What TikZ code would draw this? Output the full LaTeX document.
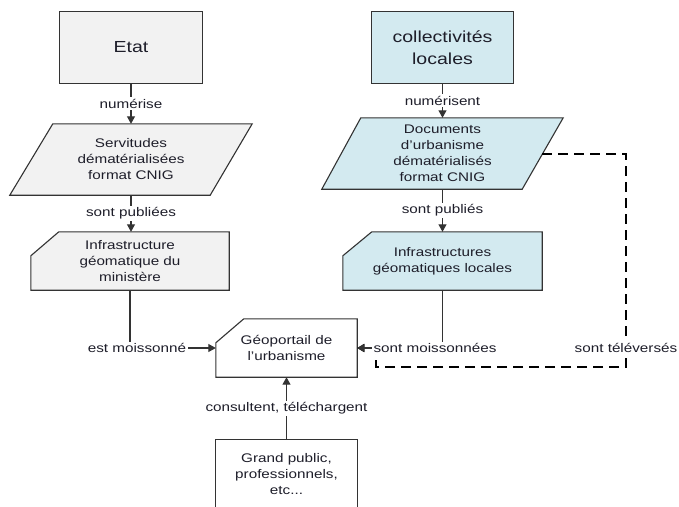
\documentclass[tikz,border=0pt]{standalone}
\usepackage{fontspec}
\setmainfont{Liberation Sans}[FakeStretch=1.22]
\usetikzlibrary{arrows.meta,backgrounds}
\definecolor{gfill}{HTML}{F2F2F2}
\definecolor{bfill}{HTML}{D3EAF0}
\definecolor{edge}{HTML}{333333}
\definecolor{txt}{HTML}{1E1E2A}
\begin{document}
\begin{tikzpicture}[x=1pt,y=-1pt,
  box/.style={rectangle, inner sep=0pt, align=center, text=txt, font=\fontsize{12.5}{16}\selectfont},
  bigbox/.style={box, font=\fontsize{16}{22}\selectfont},
  lbl/.style={fill=white, inner sep=1.5pt, text=txt, font=\fontsize{12.5}{15}\selectfont},
  conn/.style={draw=edge, line width=1.1pt, -{Triangle[length=7.5pt,width=8pt]}},
  outline/.style={draw=edge, line width=1.1pt},
  dashconn/.style={draw=black, line width=2.6pt, dash pattern=on 10pt off 6pt, -{Triangle[length=7pt,width=8pt]}}]
\useasboundingbox (0,0) rectangle (679,506);
\clip (0,0) rectangle (679,506);

% nodes
\node[bigbox, minimum width=142pt, minimum height=71pt] (etat) at (131,47.5) {Etat};
\node[box, minimum width=242pt, minimum height=71pt] (serv) at (131,159.5) {Servitudes\\dématérialisées\\format CNIG};
\node[box, minimum width=198pt, minimum height=58pt] (infra) at (130,261) {Infrastructure\\géomatique du\\ministère};
\node[box, minimum width=141pt, minimum height=58pt] (geo) at (286.5,348) {Géoportail de\\l'urbanisme};
\node[box, minimum width=141pt, minimum height=68pt] (gp) at (286.5,474) {Grand public,\\professionnels,\\etc...};
\node[bigbox, minimum width=141pt, minimum height=71pt] (coll) at (442.5,47.5) {collectivités\\locales};
\node[box, minimum width=241pt, minimum height=71pt] (docs) at (442.5,153.5) {Documents\\d'urbanisme\\dématérialisés\\format CNIG};
\node[box, minimum width=199pt, minimum height=58pt] (infl) at (442.5,261) {Infrastructures\\géomatiques locales};

% shapes
\begin{scope}[on background layer]
\draw[outline, fill=gfill] (etat.north west) rectangle (etat.south east);
\draw[outline, fill=gfill] ([xshift=43pt]serv.north west) -- (serv.north east) -- ([xshift=-42pt]serv.south east) -- (serv.south west) -- cycle;
\draw[outline, fill=gfill] ([xshift=28pt]infra.north west) -- (infra.north east) -- (infra.south east) -- (infra.south west) -- ([yshift=-24pt]infra.north west) -- cycle;
\draw[outline, fill=white] ([xshift=28pt]geo.north west) -- (geo.north east) -- (geo.south east) -- (geo.south west) -- ([yshift=-24pt]geo.north west) -- cycle;
\draw[outline, fill=white] (gp.north west) rectangle (gp.south east);
\draw[outline, fill=bfill] (coll.north west) rectangle (coll.south east);
\draw[outline, fill=bfill] ([xshift=39pt]docs.north west) -- (docs.north east) -- ([xshift=-41pt]docs.south east) -- (docs.south west) -- cycle;
\draw[outline, fill=bfill] ([xshift=29pt]infl.north west) -- (infl.north east) -- (infl.south east) -- (infl.south west) -- ([yshift=-24pt]infl.north west) -- cycle;
\end{scope}

% connectors
\coordinate (dE) at (542,154);
\draw[dashconn] (dE) -| (626,367) -| (376,348) -- (geo.east);
\node[lbl] (tv) at (626,348) {sont téléversés};

\draw[conn] (etat.south) -- node[lbl]{numérise} (serv.north);
\draw[conn] (serv.south) -- node[lbl]{sont publiées} (serv.south |- infra.north);
\draw[conn] (coll.south) -- node[lbl]{numérisent} (docs.north);
\draw[conn] (docs.south) -- node[lbl]{sont publiés} (infl.north);
\draw[conn] (infra.south) |- node[lbl, pos=0.5, xshift=7pt]{est moissonné} (geo.west);
\draw[conn] (infl.south) |- node[lbl, pos=0.5, xshift=-7.5pt]{sont moissonnées} (geo.east);
\draw[conn] (gp.north) -- node[lbl]{consultent, téléchargent} (geo.south);
\end{tikzpicture}
\end{document}
